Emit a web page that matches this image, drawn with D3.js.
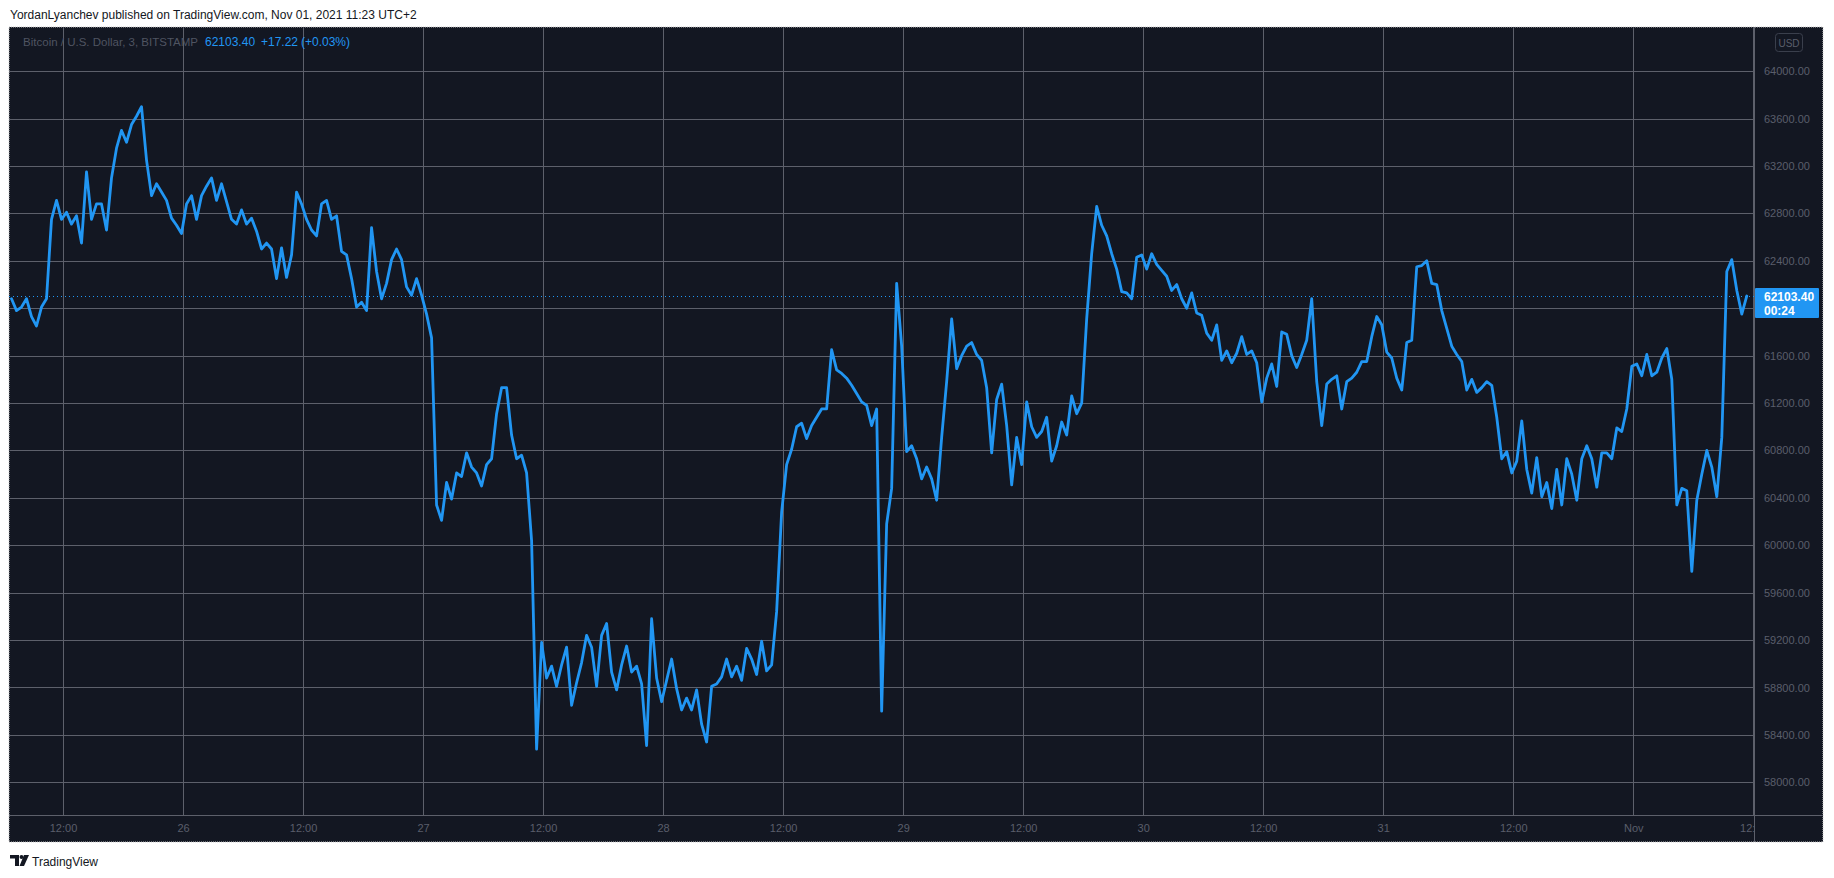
<!DOCTYPE html>
<html><head><meta charset="utf-8">
<script src="https://cdnjs.cloudflare.com/ajax/libs/d3/7.8.5/d3.min.js"></script>
<style>
html,body{margin:0;padding:0;background:#fff;}
svg{display:block;}
</style></head><body>
<svg id="chart" width="1834" height="878"></svg>
<script>
// ---- data ----
const startTime = "2021-10-25T04:51:00Z";   // first sample (UTC)
const stepMinutes = 30;                      // sampling step
const prices = [
62080,61980,62010,62080,61930,61850,62010,62080,62750,62910,
62750,62810,62710,62780,62550,63150,62750,62880,62880,62660,
63100,63350,63500,63400,63550,63620,63700,63250,62950,63050,
62980,62910,62760,62700,62630,62880,62950,62750,62950,63030,
63100,62910,63050,62900,62750,62710,62830,62710,62760,62650,
62500,62550,62500,62250,62510,62260,62450,62980,62880,62750,
62660,62610,62880,62910,62750,62780,62480,62450,62250,62010,
62050,61980,62680,62310,62080,62210,62410,62500,62410,62180,
62110,62250,62110,61950,61750,60340,60210,60530,60390,60610,
60580,60780,60660,60610,60500,60680,60730,61110,61330,61330,
60930,60730,60760,60610,60040,58280,59180,58880,58980,58810,
58990,59140,58650,58840,59010,59240,59140,58810,59240,59340,
58930,58780,58990,59150,58930,58980,58830,58310,59380,58880,
58680,58860,59040,58790,58610,58710,58610,58780,58490,58340,
58810,58830,58890,59040,58890,58980,58860,59130,59040,58910,
59190,58940,58990,59440,60280,60680,60810,61000,61030,60900,
61010,61080,61150,61150,61650,61480,61450,61410,61350,61280,
61210,61180,61010,61150,58600,60180,60480,62210,61680,60790,
60840,60730,60560,60660,60560,60380,60910,61380,61910,61490,
61600,61680,61710,61610,61560,61330,60780,61230,61360,61010,
60510,60910,60680,61210,61000,60910,60960,61080,60710,60840,
61040,60930,61260,61110,61200,61910,62460,62860,62700,62610,
62460,62330,62140,62130,62080,62430,62450,62330,62460,62370,
62320,62270,62150,62200,62080,62000,62130,61960,61940,61790,
61730,61860,61560,61640,61540,61620,61760,61610,61640,61540,
61210,61410,61530,61340,61800,61780,61600,61500,61610,61730,
62080,61380,61010,61360,61400,61430,61150,61380,61410,61460,
61550,61550,61760,61930,61860,61630,61580,61410,61310,61710,
61730,62350,62360,62400,62210,62200,61980,61830,61680,61610,
61550,61310,61400,61290,61330,61380,61350,61080,60730,60790,
60610,60710,61050,60640,60440,60740,60410,60530,60310,60640,
60340,60730,60600,60380,60730,60840,60730,60490,60780,60780,
60730,60990,60960,61150,61510,61530,61430,61610,61430,61460,
61580,61660,61400,60340,60480,60460,59780,60380,60600,60800,
60660,60410,60910,62310,62410,62150,61950,62103.4
];
const priceTicks = [58000,58400,58800,59200,59600,60000,60400,60800,61200,61600,62000,62400,62800,63200,63600,64000];
const timeTicks = ["2021-10-25T10:00:00Z","2021-10-25T22:00:00Z","2021-10-26T10:00:00Z","2021-10-26T22:00:00Z",
  "2021-10-27T10:00:00Z","2021-10-27T22:00:00Z","2021-10-28T10:00:00Z","2021-10-28T22:00:00Z",
  "2021-10-29T10:00:00Z","2021-10-29T22:00:00Z","2021-10-30T10:00:00Z","2021-10-30T22:00:00Z",
  "2021-10-31T11:00:00Z","2021-10-31T23:00:00Z","2021-11-01T11:00:00Z"];
const timeTickLabels = ["12:00","26","12:00","27","12:00","28","12:00","29","12:00","30","12:00","31","12:00","Nov","12:00"];
const lastPrice = 62103.40;
const priceChange = 17.22;
const priceChangePct = 0.03;
const symbolLabel = "Bitcoin / U.S. Dollar, 3, BITSTAMP";
const headerText = "YordanLyanchev published on TradingView.com, Nov 01, 2021 11:23 UTC+2";
const countdown = "00:24";

// ---- layout ----
const frame = {x0: 9, y0: 27, x1: 1823, y1: 842};
const plot = {left: 9, right: 1754, top: 27, bottom: 815};
const BG = "#131722", GRID = "#5d606b", LINE = "#2196f3", AXT = "#5a5e6b";

const svg = d3.select("#chart");
const x = d3.scaleUtc()
  .domain([new Date("2021-10-25T04:36:00Z"), new Date("2021-11-01T11:00:00Z")])
  .range([plot.left, 1753.3]);
const y = d3.scaleLinear().domain([58000, 64000]).range([782.3, 71.2]);

const t0 = Date.parse(startTime);
const series = prices.map((p, i) => ({t: new Date(t0 + i * stepMinutes * 60000), p}));

// header
svg.append("text").attr("x", 10).attr("y", 19)
  .attr("font-family", "Liberation Sans, Arial, sans-serif").attr("font-size", 12)
  .attr("fill", "#131722").text(headerText);

// frame background
svg.append("rect").attr("x", frame.x0).attr("y", frame.y0)
  .attr("width", frame.x1 - frame.x0).attr("height", frame.y1 - frame.y0)
  .attr("fill", BG).attr("stroke", "#c9c9c9").attr("stroke-dasharray", "1,1");

const defs = svg.append("defs");
defs.append("clipPath").attr("id", "plotclip").append("rect")
  .attr("x", plot.left).attr("y", plot.top)
  .attr("width", plot.right - plot.left).attr("height", plot.bottom - plot.top);
defs.append("clipPath").attr("id", "xclip").append("rect")
  .attr("x", plot.left).attr("y", plot.bottom)
  .attr("width", plot.right - plot.left).attr("height", frame.y1 - plot.bottom);

// grid
const grid = svg.append("g").attr("clip-path", "url(#plotclip)");
grid.selectAll("line.h").data(priceTicks).join("line").attr("class", "h")
  .attr("x1", plot.left).attr("x2", plot.right)
  .attr("y1", d => Math.round(y(d)) + 0.5).attr("y2", d => Math.round(y(d)) + 0.5)
  .attr("stroke", GRID).attr("stroke-width", 1);
grid.selectAll("line.v").data(timeTicks).join("line").attr("class", "v")
  .attr("y1", plot.top).attr("y2", plot.bottom)
  .attr("x1", d => Math.round(x(new Date(d))) + 0.5).attr("x2", d => Math.round(x(new Date(d))) + 0.5)
  .attr("stroke", GRID).attr("stroke-width", 1);

// last price dotted line
svg.append("line").attr("x1", plot.left).attr("x2", plot.right)
  .attr("y1", Math.round(y(lastPrice)) + 0.5).attr("y2", Math.round(y(lastPrice)) + 0.5)
  .attr("stroke", LINE).attr("stroke-dasharray", "1,3").attr("stroke-width", 1);

// price line
svg.append("g").attr("clip-path", "url(#plotclip)").append("path")
  .datum(series)
  .attr("d", d3.line().x(d => x(d.t)).y(d => y(d.p)))
  .attr("fill", "none").attr("stroke", LINE).attr("stroke-width", 2.8)
  .attr("stroke-linejoin", "round").attr("stroke-linecap", "round");

// separators
svg.append("line").attr("x1", frame.x0).attr("x2", frame.x1)
  .attr("y1", plot.bottom + 0.5).attr("y2", plot.bottom + 0.5).attr("stroke", GRID);
svg.append("line").attr("x1", plot.right + 0.5).attr("x2", plot.right + 0.5)
  .attr("y1", frame.y0).attr("y2", frame.y1).attr("stroke", GRID);

// y axis (labels hidden behind the last-price badge are not drawn, as in the original)
const ly = y(lastPrice);
const visiblePriceTicks = priceTicks.filter(v => Math.abs(y(v) - (ly + 7)) > 20);
const yAxis = svg.append("g").attr("transform", `translate(${plot.right},0)`)
  .call(d3.axisRight(y).tickValues(visiblePriceTicks).tickSize(0).tickPadding(10).tickFormat(d3.format(".2f")));
yAxis.select(".domain").remove();
yAxis.selectAll("text").attr("fill", AXT).attr("font-size", 11)
  .attr("font-family", "Liberation Sans, Arial, sans-serif");

// x axis
const xAxis = svg.append("g").attr("clip-path", "url(#xclip)")
  .append("g").attr("transform", `translate(0,${plot.bottom})`)
  .call(d3.axisBottom(x).tickValues(timeTicks.map(d => new Date(d))).tickSize(0).tickPadding(9)
    .tickFormat((d, i) => timeTickLabels[i]));
xAxis.select(".domain").remove();
xAxis.selectAll("text").attr("fill", AXT).attr("font-size", 11)
  .attr("font-family", "Liberation Sans, Arial, sans-serif");

// USD box
svg.append("rect").attr("x", 1775.5).attr("y", 33.5).attr("width", 27).attr("height", 18).attr("rx", 3)
  .attr("fill", "none").attr("stroke", "#3a3f4c");
svg.append("text").attr("x", 1789).attr("y", 46.5).attr("text-anchor", "middle")
  .attr("font-family", "Liberation Sans, Arial, sans-serif").attr("font-size", 10)
  .attr("fill", AXT).text("USD");

// last price label
svg.append("rect").attr("x", plot.right + 1).attr("y", ly - 8).attr("width", 64).attr("height", 30).attr("rx", 1)
  .attr("fill", LINE);
svg.append("text").attr("x", 1764).attr("y", ly + 5.5).attr("font-family", "Liberation Sans, Arial, sans-serif")
  .attr("font-size", 12).attr("font-weight", "bold").attr("fill", "#fff").text(d3.format(".2f")(lastPrice));
svg.append("text").attr("x", 1764).attr("y", ly + 19.5).attr("font-family", "Liberation Sans, Arial, sans-serif")
  .attr("font-size", 12).attr("font-weight", "bold").attr("fill", "#fff").text(countdown);

// legend
const lg = svg.append("g").attr("font-family", "Liberation Sans, Arial, sans-serif");
lg.append("text").attr("x", 198).attr("y", 46).attr("text-anchor", "end").attr("font-size", 11.5)
  .attr("fill", "#4f5461").text(symbolLabel);
lg.append("text").attr("x", 205).attr("y", 46).attr("font-size", 12).attr("fill", LINE)
  .text(d3.format(".2f")(lastPrice));
lg.append("text").attr("x", 261).attr("y", 46).attr("font-size", 12).attr("fill", LINE)
  .text("+" + d3.format(".2f")(priceChange));
lg.append("text").attr("x", 301).attr("y", 46).attr("font-size", 12).attr("fill", LINE)
  .text("(+" + d3.format(".2f")(priceChangePct) + "%)");

// TradingView logo
const logo = svg.append("g").attr("fill", "#131722");
logo.append("path").attr("d", "M10,855 h9 v11 h-4 v-7.5 h-5 z");
logo.append("circle").attr("cx", 21.5).attr("cy", 857).attr("r", 2);
logo.append("path").attr("d", "M24,855 h5 l-5,11 h-4.5 z");
svg.append("text").attr("x", 32).attr("y", 866).attr("font-family", "Liberation Sans, Arial, sans-serif")
  .attr("font-size", 12).attr("fill", "#131722").text("TradingView");
</script>
</body></html>
